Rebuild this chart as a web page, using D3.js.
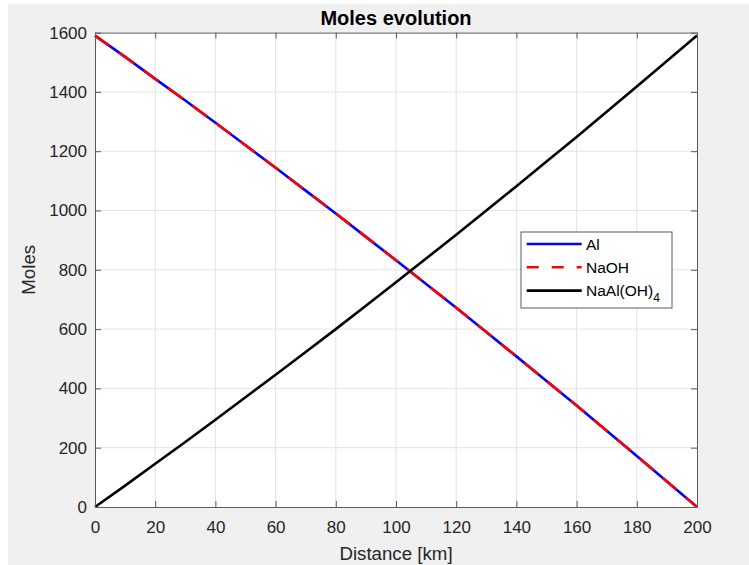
<!DOCTYPE html>
<html>
<head>
<meta charset="utf-8">
<script src="https://cdn.jsdelivr.net/npm/d3@7"></script>
<style>
  html, body { margin: 0; padding: 0; background: #ffffff; }
  svg { display: block; font-family: "Liberation Sans", Arial, Helvetica, sans-serif; }
</style>
</head>
<body>
<svg id="chart" width="749" height="565"></svg>
<script>
'use strict'

// distance along the reactor [km]
let distance = [0, 10, 20, 30, 40, 50, 60, 70, 80, 90, 100, 110, 120, 130, 140, 150, 160, 170, 180, 190, 200]
// moles
let al_moles = [1590, 1518, 1444, 1371, 1296, 1220, 1144, 1067, 990, 911, 832, 752, 672, 590, 508, 425, 342, 257, 172, 86, 0]
let naoh_moles = [1590, 1518, 1444, 1371, 1296, 1220, 1144, 1067, 990, 911, 832, 752, 672, 590, 508, 425, 342, 257, 172, 86, 0]
let naaloh4_moles = [0, 72, 146, 219, 294, 370, 446, 523, 600, 679, 758, 838, 918, 1000, 1082, 1165, 1248, 1333, 1418, 1504, 1590]

let x_ticks = [0, 20, 40, 60, 80, 100, 120, 140, 160, 180, 200]
let y_ticks = [0, 200, 400, 600, 800, 1000, 1200, 1400, 1600]

let series = [
  {name: 'Al', values: al_moles, color: '#0000ff', dash: null},
  {name: 'NaOH', values: naoh_moles, color: '#ff0000', dash: '18,12'},
  {name: 'NaAl(OH)', sub: '4', values: naaloh4_moles, color: '#000000', dash: null}
]

let svg = d3.select('#chart')
let W = 749, H = 565
let plot = {left: 95, right: 697, top: 32.6, bottom: 507}
let textColor = '#262626'
let axisColor = '#5a5a5a'

// figure background
svg.append('rect').attr('x', 8).attr('y', 4).attr('width', W - 8).attr('height', H - 4).attr('fill', '#f0f0f0')
svg.append('rect').attr('x', plot.left).attr('y', plot.top)
  .attr('width', plot.right - plot.left).attr('height', plot.bottom - plot.top).attr('fill', '#ffffff')

let xScale = d3.scaleLinear().domain([0, 200]).range([plot.left, plot.right])
let yScale = d3.scaleLinear().domain([0, 1600]).range([plot.bottom, plot.top])

// grid
let grid = svg.append('g')
grid.selectAll('.vgrid').data(x_ticks.slice(1, -1)).enter().append('line')
  .attr('x1', d => xScale(d)).attr('x2', d => xScale(d))
  .attr('y1', plot.top).attr('y2', plot.bottom)
  .attr('stroke', '#e3e3e3').attr('stroke-width', 1)
grid.selectAll('.hgrid').data(y_ticks.slice(1, -1)).enter().append('line')
  .attr('y1', d => yScale(d)).attr('y2', d => yScale(d))
  .attr('x1', plot.left).attr('x2', plot.right)
  .attr('stroke', '#e3e3e3').attr('stroke-width', 1)

// data lines
let line = d3.line()
  .x((d, i) => xScale(distance[i]))
  .y(d => yScale(d))

let lines_g = svg.append('g')
series.forEach(function(s){
  lines_g.append('path')
    .datum(s.values)
    .attr('d', line)
    .attr('fill', 'none')
    .attr('stroke', s.color)
    .attr('stroke-width', 2.6)
    .attr('stroke-dasharray', s.dash)
})

// axes (ticks inside, on all four sides like matlab box on)
function styleAxis(g){
  g.select('.domain').attr('stroke', axisColor)
  g.selectAll('.tick line').attr('stroke', axisColor)
  g.selectAll('.tick text').attr('fill', textColor).style('font-size', '17px')
    .style('font-family', '"Liberation Sans", Arial, sans-serif')
}

svg.append('g').attr('transform', 'translate(0,' + plot.bottom + ')')
  .call(d3.axisBottom(xScale).tickValues(x_ticks).tickSizeInner(-6).tickSizeOuter(0).tickPadding(14))
  .call(styleAxis)
svg.append('g').attr('transform', 'translate(0,' + plot.top + ')')
  .call(d3.axisTop(xScale).tickValues(x_ticks).tickSizeInner(-6).tickSizeOuter(0).tickFormat(''))
  .call(styleAxis)
svg.append('g').attr('transform', 'translate(' + plot.left + ',0)')
  .call(d3.axisLeft(yScale).tickValues(y_ticks).tickSizeInner(-6).tickSizeOuter(0).tickPadding(8).tickFormat(d3.format('d')))
  .call(styleAxis)
svg.append('g').attr('transform', 'translate(' + plot.right + ',0)')
  .call(d3.axisRight(yScale).tickValues(y_ticks).tickSizeInner(-6).tickSizeOuter(0).tickFormat(''))
  .call(styleAxis)

// title and labels
svg.append('text').text('Moles evolution')
  .attr('x', (plot.left + plot.right) / 2).attr('y', 25)
  .attr('text-anchor', 'middle').attr('fill', '#000000')
  .style('font-size', '20px').style('font-weight', 'bold')
svg.append('text').text('Distance [km]')
  .attr('x', (plot.left + plot.right) / 2).attr('y', 560)
  .attr('text-anchor', 'middle').attr('fill', textColor)
  .style('font-size', '18.7px')
svg.append('text').text('Moles')
  .attr('transform', 'translate(35,' + ((plot.top + plot.bottom) / 2) + ') rotate(-90)')
  .attr('text-anchor', 'middle').attr('fill', textColor)
  .style('font-size', '18.7px')

// legend
let legend = svg.append('g').attr('transform', 'translate(521,232)')
legend.append('rect').attr('width', 151).attr('height', 76)
  .attr('fill', '#ffffff').attr('stroke', axisColor).attr('stroke-width', 1)
let rows = legend.selectAll('.row').data(series).enter().append('g')
  .attr('transform', (d, i) => 'translate(0,' + (12 + i * 23.3) + ')')
rows.append('line')
  .attr('x1', 5.7).attr('x2', 60.7).attr('y1', 0).attr('y2', 0)
  .attr('stroke', d => d.color).attr('stroke-width', 2.6)
  .attr('stroke-dasharray', d => d.dash ? '12,13' : null)
let labels = rows.append('text')
  .attr('x', 65).attr('y', 5.5).attr('fill', '#000000')
  .style('font-size', '15.5px')
labels.append('tspan').text(d => d.name)
labels.filter(d => d.sub).append('tspan').text(d => d.sub)
  .attr('dy', 6).style('font-size', '12px')
</script>
</body>
</html>
